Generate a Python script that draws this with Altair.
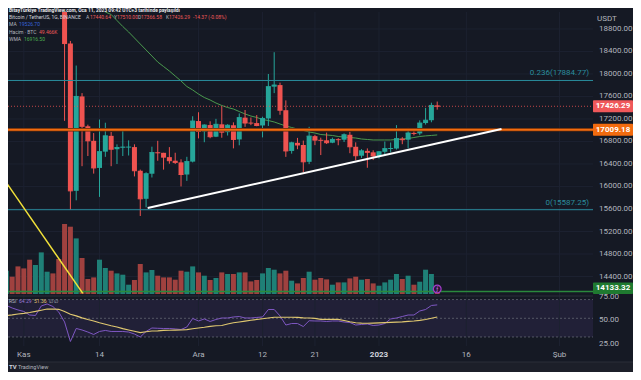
import altair as alt
import pandas as pd

# ---------------- data (day 0 = 1 Nov 2022; first candle 29 Oct 2022) ----------------
DAY0 = -3
OPEN = [20595.0, 20817.9, 20631.4, 20491.0, 20483.6, 20151.8, 20207.8, 21148.5, 21299.4, 20905.6,
        20591.1, 18541.3, 15922.8, 17601.2, 17070.3, 16812.1, 16330.0, 16619.5, 16900.6, 16662.8,
        16692.6, 16700.5, 16700.7, 16280.2, 15781.3, 16226.9, 16603.1, 16598.9, 16522.1, 16458.6,
        16428.8, 16212.9, 16442.5, 17163.6, 16977.4, 17092.7, 16885.2, 17105.7, 16966.3, 17088.9,
        16836.6, 17224.1, 17128.5, 17127.5, 17085.1, 17209.8, 17774.7, 17803.2, 17356.3, 16632.1,
        16776.5, 16738.2, 16438.9, 16895.6, 16824.7, 16821.4, 16778.5, 16836.6, 16832.1, 16919.4,
        16706.4, 16547.3, 16633.5, 16607.5, 16542.4, 16616.8, 16672.9, 16675.2, 16850.4, 16831.9,
        16950.7, 16943.6, 17127.8, 17178.3, 17440.64]
HIGH = [21085, 20930, 20847, 20700, 20800, 20393, 21302, 21480, 21365, 21069,
        20700, 18587.8, 18150, 17660, 17099, 16950, 17190, 17134, 16970, 16749,
        17014, 16820, 16750, 16300, 16253, 16708, 16812, 16598.9, 16700, 16600,
        16484, 16528, 17249, 17320, 17105, 17159, 17203, 17424, 17107, 17140,
        17299, 17360, 17227, 17270, 17241, 18000, 18387, 17846, 17531, 16796,
        16864, 16816, 17061, 16918, 16868, 16958, 16869, 16860, 16944, 16972,
        16785, 16664, 16677, 16644, 16628, 16799, 16782, 17091, 16877, 17041,
        16982, 17176, 17398, 17490, 17510.00]
LOW = [20552, 20516, 20237, 20330, 20048, 20031, 20180, 21080, 20880, 20386,
       17166.8, 15588, 15754.3, 16361, 16542, 16229, 15815, 16527, 16361, 16400,
       16542, 16551, 16179, 15476, 15630, 16160, 16458, 16300, 16405, 16400,
       16001, 16100, 16428.3, 16855, 16787, 16858, 16878, 16867, 16906, 16678,
       16733, 17060, 17091, 17071, 16873, 17076, 17660, 17275, 16527, 16584,
       16663, 16256, 16398, 16735, 16559, 16755, 16770, 16733, 16791, 16592,
       16465, 16508, 16333, 16470, 16499, 16548, 16606, 16656, 16752, 16679,
       16908, 16911, 17100, 17142, 17366.58]
CLOSE = [20817.9, 20631.4, 20491.0, 20483.6, 20151.8, 20207.8, 21148.5, 21299.4, 20905.6, 20591.1,
         18541.3, 15922.8, 17601.2, 17070.3, 16812.1, 16330.0, 16619.5, 16900.6, 16662.8, 16692.6,
         16700.5, 16700.7, 16280.2, 15781.3, 16226.9, 16603.1, 16598.9, 16522.1, 16458.6, 16428.8,
         16212.9, 16442.5, 17163.6, 16977.4, 17092.7, 16885.2, 17105.7, 16966.3, 17088.9, 16836.6,
         17224.1, 17128.5, 17127.5, 17085.1, 17209.8, 17774.7, 17803.2, 17356.3, 16632.1, 16776.5,
         16738.2, 16438.9, 16895.6, 16824.7, 16821.4, 16778.5, 16836.6, 16832.1, 16919.4, 16706.4,
         16547.3, 16633.5, 16607.5, 16542.4, 16616.8, 16672.9, 16675.2, 16850.4, 16831.9, 16950.7,
         16943.6, 17127.8, 17178.3, 17440.66, 17426.29]
VOLUME_K = [233, 173, 276, 256, 343, 290, 416, 223, 206, 350,
            700, 673, 556, 360, 150, 166, 343, 260, 233, 206,
            193, 93, 140, 300, 216, 240, 183, 166, 166, 143,
            233, 223, 276, 216, 183, 140, 160, 216, 200, 200,
            216, 216, 126, 140, 206, 260, 243, 206, 233, 133,
            106, 160, 223, 143, 160, 146, 93, 116, 116, 156,
            173, 143, 150, 106, 83, 116, 143, 200, 150, 183,
            93, 123, 243, 200, 49.466]
RSI = [63.7, 61.0, 58.9, 57.3, 53.5, 53.0, 63.2, 65.3, 62.6, 56.7,
       46.0, 25.2, 39.1, 37.5, 35.3, 32.7, 35.9, 37.0, 35.9, 35.9,
       35.9, 35.3, 33.2, 30.0, 35.9, 39.6, 39.3, 39.1, 39.1, 38.6,
       38.0, 40.7, 49.8, 47.1, 49.3, 46.6, 48.7, 50.3, 50.3, 51.4,
       51.9, 50.3, 50.3, 50.9, 51.4, 59.4, 59.4, 52.5, 42.8, 44.4,
       44.4, 41.2, 47.4, 47.1, 47.1, 46.6, 47.1, 47.1, 46.0, 45.5,
       42.8, 43.4, 43.9, 42.3, 42.8, 44.4, 49.3, 50.3, 51.9, 53.5,
       53.5, 57.8, 59.4, 63.7, 64.29]
RSI_MA = [53.0, 53.7, 54.6, 55.3, 56.2, 57.3, 58.6, 59.9, 59.9, 59.6,
          57.3, 54.3, 52.5, 50.5, 48.7, 47.1, 45.2, 43.6, 42.0, 40.7,
          38.9, 37.5, 36.1, 34.6, 35.6, 36.4, 36.6, 37.0, 37.2, 37.3,
          37.5, 37.9, 38.8, 39.6, 40.4, 41.4, 42.0, 42.3, 43.9, 45.2,
          46.0, 46.9, 47.9, 48.7, 49.5, 50.3, 51.1, 51.1, 51.1, 51.1,
          50.9, 50.5, 50.3, 50.0, 48.9, 48.9, 48.9, 48.9, 47.6, 46.3,
          45.2, 44.8, 44.7, 44.8, 45.0, 45.3, 45.6, 45.8, 46.1, 46.6,
          47.1, 47.8, 48.7, 50.0, 51.36]
WMA_DAY0 = 14
WMA = [19164, 19058, 18951, 18844, 18747, 18640, 18533, 18427, 18320, 18213,
       18133, 18053, 17964, 17876, 17778, 17716, 17644, 17582, 17538, 17484,
       17440, 17404, 17378, 17333, 17289, 17253, 17227, 17191, 17173, 17147,
       17111, 17076, 17049, 17022, 16996, 16969, 16951, 16924, 16916, 16907,
       16889, 16880, 16871, 16862, 16844, 16836, 16827, 16827, 16827, 16827,
       16836, 16844, 16853, 16871, 16889, 16900, 16908, 16916.5]
MA_LAST = 19526.70
VOL_LAST_TEXT = "49.466K"
FIB_LEVELS = [17884.77, 15587.25]
FIB_NAMES = ["0.236", "0"]
ORANGE_LEVEL = 17009.18
GREEN_LEVEL = 14133.32
WHITE_TREND_D = [21.27, 82.04]
WHITE_TREND_P = [15618.0, 17022.0]
YELLOW_TREND_D = [-4.0, 10.13]
YELLOW_TREND_P = [16220.0, 14100.0]
EVENT_DAY = [71]
PRICE_TICKS = [14400, 14800, 15200, 15600, 16000, 16400, 16800, 17200, 17600, 18000, 18400, 18800]
RSI_TICKS = [75, 50, 25]
RSI_BANDS = [70, 50, 30]
TIME_TICKS = [0, 13, 30, 41, 50, 61, 76, 92]
TIME_LABELS = ["Kas", "14", "Ara", "12", "21", "2023", "16", "Şub"]

# ---------------- layout / style ----------------
W, H = 625, 364
PLOT_W = 585
X_DOMAIN = [-1.857, 96.894]
P_DOMAIN = [14088.9, 19102.2]
P_RANGE = [286, 4]
VOL_DOMAIN = [0, 2820]
RSI_DOMAIN = [20, 75]
RSI_RANGE = [338.35, 286.9]

FONT = "Roboto"
BG = "#151924"
GRID = "#1c2130"
GRAY = "#b2b5be"
UP, DOWN = "#26a69a", "#ef5350"
VUP, VDOWN = "#1f8077", "#a0413f"
TEAL = "#2a8c9c"
ORANGE, ORANGE_DARK = "#f26b0f", "#5e2a0c"
GREEN_LINE, GREEN_BOX = "#2a8a3c", "#1f7a30"
RSI_C, RSIMA_C = "#7e57c2", "#e0c870"
WMA_C = "#4a9a4e"
MA_C = "#3564dc"
LEG = 5.0

ONE = alt.Data(values=[{"k": 0}])


def xenc(field="d"):
    return alt.X(f"{field}:Q", scale=alt.Scale(domain=X_DOMAIN, range=[0, PLOT_W], nice=False, zero=False), axis=None)


def yprice(field, clamp=False):
    return alt.Y(f"{field}:Q", scale=alt.Scale(domain=P_DOMAIN, range=P_RANGE, nice=False, zero=False, clamp=clamp),
                 axis=None)


def yrsi(field):
    return alt.Y(f"{field}:Q", scale=alt.Scale(domain=RSI_DOMAIN, range=RSI_RANGE, nice=False, zero=False), axis=None)


def updown(up, down):
    return alt.condition("datum.c >= datum.o", alt.value(up), alt.value(down))


def label(txt, x, y, color=GRAY, size=LEG, weight="normal", align="left"):
    return alt.Chart(ONE).mark_text(align=align, baseline="middle", fontSize=size, fontWeight=weight,
                                    color=color, font=FONT).encode(
        x=alt.value(x), y=alt.value(y), text=alt.value(txt))


def pxrect(x, x2, y, y2, color, opacity=1.0):
    return alt.Chart(ONE).mark_rect(color=color, opacity=opacity).encode(
        x=alt.value(x), x2=alt.value(x2), y=alt.value(y), y2=alt.value(y2))


days = list(range(DAY0, DAY0 + len(OPEN)))
cdf = pd.DataFrame(dict(d=days, o=OPEN, h=HIGH, l=LOW, c=CLOSE, v=VOLUME_K, rsi=RSI, rsima=RSI_MA))
vis = cdf[cdf.l < P_DOMAIN[1]]
wdf = pd.DataFrame(dict(d=list(range(WMA_DAY0, WMA_DAY0 + len(WMA))), w=WMA))
ptick = pd.DataFrame(dict(p=PRICE_TICKS, txt=[f"{p:.2f}" for p in PRICE_TICKS]))
rtick = pd.DataFrame(dict(r=RSI_TICKS, txt=[f"{r:.2f}" for r in RSI_TICKS]))
tdf = pd.DataFrame(dict(d=TIME_TICKS, lab=TIME_LABELS))
fib = pd.DataFrame(dict(p=FIB_LEVELS, txt=[f"{n}({p:.2f})" for n, p in zip(FIB_NAMES, FIB_LEVELS)]))
bands = pd.DataFrame(dict(r=RSI_BANDS))
last_close = CLOSE[-1]
boxes = pd.DataFrame(dict(p=[last_close, ORANGE_LEVEL],
                          txt=[f"{last_close:.2f}", f"{ORANGE_LEVEL:.2f}"],
                          col=["#f0585a", ORANGE]))
gbox = pd.DataFrame(dict(p=[GREEN_LEVEL], txt=[f"{GREEN_LEVEL:.2f}"]))

layers = []
# backgrounds
layers.append(pxrect(0, W, 354, H, "#1c1f29"))
layers.append(pxrect(0, W, 353.5, 354.5, "#2a2e39"))
layers.append(alt.Chart(pd.DataFrame(dict(hi=[RSI_BANDS[0]], lo=[RSI_BANDS[-1]]))).mark_rect(
    color=RSI_C, opacity=0.12).encode(x=alt.value(0), x2=alt.value(PLOT_W), y=yrsi("hi"), y2="lo:Q"))
# grid
layers.append(alt.Chart(ptick).mark_rule(color=GRID, strokeWidth=1).encode(
    y=yprice("p"), x=alt.value(0), x2=alt.value(PLOT_W)))
layers.append(alt.Chart(tdf).mark_rule(color=GRID, strokeWidth=1).encode(
    x=xenc("d"), y=alt.value(4), y2=alt.value(338)))
layers.append(pxrect(0, PLOT_W, 287.5, 288.5, "#2a2e39"))
# volume
layers.append(alt.Chart(cdf).mark_bar(size=5, clip=True).encode(
    x=xenc(), y=alt.Y("v:Q", scale=alt.Scale(domain=VOL_DOMAIN, range=P_RANGE, nice=False), axis=None, stack=None),
    color=updown(VUP, VDOWN)))
layers.append(alt.Chart(pd.DataFrame(dict(p=[GREEN_LEVEL]))).mark_rule(color=GREEN_LINE, strokeWidth=1.5).encode(
    y=yprice("p"), x=alt.value(0), x2=alt.value(PLOT_W)))
# WMA
layers.append(alt.Chart(wdf).mark_line(color=WMA_C, strokeWidth=1, clip=True).encode(
    x=xenc(), y=yprice("w", clamp=True)))
# candles
layers.append(alt.Chart(vis).mark_rule(strokeWidth=1, clip=True).encode(
    x=xenc(), y=yprice("l", clamp=True), y2="h:Q", color=updown(UP, DOWN)))
layers.append(alt.Chart(vis).mark_rect(clip=True, xOffset=-2.5, x2Offset=2.5, yOffset=-0.5, y2Offset=0.5).encode(
    x=xenc(), x2="d:Q", y=yprice("c", clamp=True), y2="c:Q", color=updown(UP, DOWN)))
layers.append(alt.Chart(vis).mark_bar(size=5, clip=True).encode(
    x=xenc(), y=yprice("o", clamp=True), y2="c:Q", color=updown(UP, DOWN)))
# fib levels
layers.append(alt.Chart(fib).mark_rule(color=TEAL, strokeWidth=1).encode(
    y=yprice("p"), x=alt.value(0), x2=alt.value(PLOT_W)))
layers.append(alt.Chart(fib).mark_text(align="right", baseline="middle", dy=-7, fontSize=8, color=TEAL,
                                       font=FONT).encode(x=alt.value(581), y=yprice("p"), text="txt:N"))
# orange horizontal line
odf = pd.DataFrame(dict(p=[ORANGE_LEVEL]))
layers.append(alt.Chart(odf).mark_rule(color=ORANGE_DARK, strokeWidth=3.5).encode(
    y=yprice("p"), x=alt.value(0), x2=alt.value(PLOT_W)))
layers.append(alt.Chart(odf).mark_rule(color=ORANGE, strokeWidth=1.8).encode(
    y=yprice("p"), x=alt.value(0), x2=alt.value(PLOT_W)))
# last price dotted
layers.append(alt.Chart(pd.DataFrame(dict(p=[last_close]))).mark_rule(
    color=DOWN, strokeWidth=1, strokeDash=[1, 2], opacity=0.8).encode(
    y=yprice("p"), x=alt.value(0), x2=alt.value(PLOT_W)))
# trend lines
layers.append(alt.Chart(pd.DataFrame(dict(d=WHITE_TREND_D, p=WHITE_TREND_P))).mark_line(
    color="#ffffff", strokeWidth=2, clip=True).encode(x=xenc(), y=yprice("p")))
layers.append(alt.Chart(pd.DataFrame(dict(d=YELLOW_TREND_D, p=YELLOW_TREND_P))).mark_line(
    color="#f2e23a", strokeWidth=1.5, clip=True).encode(x=xenc(), y=yprice("p")))
# RSI pane
layers.append(alt.Chart(bands).mark_rule(color="#787b86", strokeWidth=1, strokeDash=[2, 2], opacity=0.6).encode(
    y=yrsi("r"), x=alt.value(0), x2=alt.value(PLOT_W)))
layers.append(alt.Chart(cdf).mark_line(color=RSI_C, strokeWidth=1, clip=True).encode(x=xenc(), y=yrsi("rsi")))
layers.append(alt.Chart(cdf).mark_line(color=RSIMA_C, strokeWidth=1.2, clip=True).encode(x=xenc(), y=yrsi("rsima")))
# event marker
layers.append(alt.Chart(pd.DataFrame(dict(d=EVENT_DAY))).mark_point(
    shape="circle", size=60, filled=True, fill="#2a1636", stroke="#a53ccc", strokeWidth=1.2, opacity=1).encode(
    x=xenc(), y=alt.value(281)))
layers.append(alt.Chart(pd.DataFrame(dict(d=EVENT_DAY))).mark_text(
    text="ƒ", fontSize=6, color="#c77ce0", font=FONT, baseline="middle").encode(x=xenc(), y=alt.value(281)))
# axes labels
layers.append(alt.Chart(ptick).mark_text(align="left", baseline="middle", fontSize=8, color=GRAY, font=FONT).encode(
    x=alt.value(591), y=yprice("p"), text="txt:N"))
layers.append(alt.Chart(rtick).mark_text(align="left", baseline="middle", fontSize=8, color=GRAY, font=FONT,
                                         dy=2).encode(
    x=alt.value(591), y=yrsi("r"), text="txt:N"))
layers.append(label("USDT", 589, 11, GRAY, 8))
layers.append(alt.Chart(tdf).transform_filter("datum.lab != '2023'").mark_text(
    align="center", baseline="middle", fontSize=8, color=GRAY, font=FONT).encode(
    x=xenc("d"), y=alt.value(347), text="lab:N"))
layers.append(alt.Chart(tdf).transform_filter("datum.lab == '2023'").mark_text(
    align="center", baseline="middle", fontSize=8, color="#d1d4dc", fontWeight="bold", font=FONT).encode(
    x=xenc("d"), y=alt.value(347), text="lab:N"))
# price boxes
layers.append(alt.Chart(boxes).mark_rect(yOffset=-6, y2Offset=6, cornerRadius=1).encode(
    x=alt.value(585), x2=alt.value(W), y=yprice("p"), y2="p:Q", color=alt.Color("col:N", scale=None)))
layers.append(alt.Chart(boxes).mark_text(align="center", baseline="middle", fontSize=8, fontWeight="bold",
                                         color="#ffffff", font=FONT).encode(
    x=alt.value(605), y=yprice("p"), text="txt:N"))
layers.append(alt.Chart(gbox).mark_rect(yOffset=-9, y2Offset=2.5, cornerRadius=1, color=GREEN_BOX).encode(
    x=alt.value(585), x2=alt.value(W), y=yprice("p"), y2="p:Q"))
layers.append(alt.Chart(gbox).mark_text(align="center", baseline="middle", fontSize=8, fontWeight="bold", dy=-3.5,
                                        color="#ffffff", font=FONT).encode(
    x=alt.value(605), y=yprice("p"), text="txt:N"))
# legends
chg = CLOSE[-1] - CLOSE[-2]
pct = chg / CLOSE[-2] * 100
red_l = "#f05a5a"
layers += [
    label("BitayTürkiye TradingView.com, Oca 11, 2023 09:42 UTC+3 tarihinde paylaşıldı", 1, 2.5, "#e8e9ec", 4.9,
          "bold"),
    label("Bitcoin / TetherUS, 1G, BINANCE", 1, 9.3, "#d1d4dc"),
    label("A", 78, 9.3), label(f"{OPEN[-1]:.2f}", 82, 9.3, red_l),
    label("Y", 106, 9.3), label(f"{HIGH[-1]:.2f}", 109, 9.3, red_l),
    label("D", 130, 9.3), label(f"{LOW[-1]:.2f}", 133, 9.3, red_l),
    label("K", 158, 9.3), label(f"{CLOSE[-1]:.2f}", 161, 9.3, red_l),
    label(f"{chg:.2f} ({pct:.2f}%)", 185, 9.3, red_l),
    label("MA", 1, 16.3), label(f"{MA_LAST:.2f}", 11, 16.3, MA_C),
    label("Hacim · BTC", 1, 24.3), label(VOL_LAST_TEXT, 31, 24.3, red_l),
    label("WMA", 1, 31), label(f"{WMA[-1]:.2f}", 16, 31, "#4caf50"),
    label("RSI", 1, 292.7), label(f"{RSI[-1]:.2f}", 11, 292.7, "#9a7ad6"),
    label(f"{RSI_MA[-1]:.2f}", 26, 292.7, RSIMA_C), label("∅  ∅", 41, 292.7),
    label("TV", 1, 359, "#d1d4dc", 6, "bold"), label("TradingView", 10, 359, "#b2b5be", 5.5),
]

chart = alt.layer(*layers).resolve_scale(y="independent").properties(
    width=W, height=H, autosize=alt.AutoSizeParams(type="none"), padding=0
).configure(background=BG).configure_view(stroke=None)

chart.save("out.html", embed_options={"renderer": "svg", "actions": False})
